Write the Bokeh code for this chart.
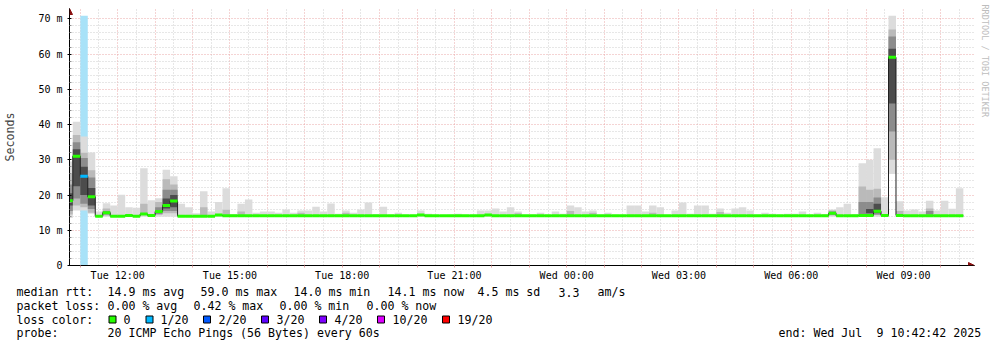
import math
from bokeh.plotting import figure
from bokeh.layouts import column
from bokeh.models import (ColumnDataSource, Range1d, FixedTicker, Label, BoxAnnotation,
                          Arrow, NormalHead, Title)
from bokeh.embed import file_html
from bokeh.resources import INLINE

# ---------------- data ----------------
# time in hours since Tue 00:00; one bin = 12 minutes
view_start = 10 + 42 / 60 + 42 / 3600          # Tue 10:42:42
view_end = view_start + 24                      # Wed 10:42:42
first_bin_start = 10.6
bin_hours = 0.2

median_ms = [
    18.4, 31.0, 25.3, 19.5, 14.0, 15.0, 14.0, 14.0, 14.2, 14.0,
    14.6, 14.2, 15.3, 17.0, 18.3, 14.0, 14.0, 14.0, 14.0, 14.0,
    14.3, 14.1, 14.1, 14.1, 14.1, 14.1, 14.1, 14.1, 14.1, 14.1,
    14.1, 14.1, 14.1, 14.1, 14.1, 14.1, 14.1, 14.1, 14.1, 14.1,
    14.1, 14.1, 14.1, 14.1, 14.1, 14.1, 14.1, 14.3, 14.1, 14.1,
    14.1, 14.1, 14.1, 14.1, 14.1, 14.1, 14.3, 14.1, 14.1, 14.1,
    14.1, 14.1, 14.1, 14.1, 14.1, 14.1, 14.1, 14.1, 14.1, 14.1,
    14.1, 14.1, 14.1, 14.1, 14.1, 14.1, 14.1, 14.1, 14.1, 14.1,
    14.1, 14.1, 14.1, 14.1, 14.1, 14.1, 14.1, 14.1, 14.1, 14.1,
    14.1, 14.1, 14.1, 14.1, 14.1, 14.1, 14.1, 14.1, 14.1, 14.1,
    14.1, 14.1, 14.8, 14.1, 14.1, 14.1, 14.2, 14.2, 15.4, 14.2,
    59.1, 14.2, 14.1, 14.1, 14.1, 14.1, 14.1, 14.1, 14.1, 14.1,
]

smoke_max_ms = [
    29.5, 40.8, 36.6, 32.1, 15.3, 17.7, 17.0, 20.1, 16.5, 16.4,
    27.6, 18.5, 19.1, 27.2, 25.3, 17.5, 16.5, 14.8, 21.1, 15.3,
    18.0, 21.9, 14.6, 17.5, 18.7, 15.0, 15.3, 15.3, 15.0, 15.9,
    15.0, 15.6, 15.6, 16.7, 15.3, 17.6, 14.7, 15.6, 15.0, 15.9,
    17.9, 14.6, 16.7, 14.4, 15.0, 14.4, 14.4, 15.6, 14.7, 14.4,
    14.2, 14.4, 14.7, 14.4, 14.4, 15.6, 15.6, 16.2, 15.3, 16.5,
    15.3, 14.4, 14.4, 15.0, 14.4, 15.3, 14.7, 17.0, 16.5, 15.3,
    15.6, 14.4, 15.0, 14.4, 14.4, 17.0, 17.0, 15.3, 17.0, 16.5,
    14.4, 15.6, 17.9, 14.7, 17.0, 17.0, 14.7, 16.2, 15.0, 16.2,
    16.5, 15.6, 14.4, 15.0, 14.7, 14.4, 14.7, 14.7, 15.3, 14.4,
    15.0, 14.6, 15.9, 16.5, 17.5, 14.6, 29.0, 30.0, 33.3, 19.4,
    70.9, 18.2, 15.6, 15.9, 15.3, 18.4, 15.6, 18.4, 16.1, 21.9,
]

smoke_min_ms = [
    13.5, 15.6, 15.6, 14.7, 13.8, 13.8, 13.8, 13.8, 13.8, 13.8,
    13.8, 13.8, 13.8, 13.8, 13.8, 13.8, 13.8, 13.8, 13.8, 13.8,
    13.8, 13.8, 13.8, 13.8, 13.8, 13.8, 13.8, 13.8, 13.8, 13.8,
    13.8, 13.8, 13.8, 13.8, 13.8, 13.8, 13.8, 13.8, 13.8, 13.8,
    13.8, 13.8, 13.8, 13.8, 13.8, 13.8, 13.8, 13.8, 13.8, 13.8,
    13.8, 13.8, 13.8, 13.8, 13.8, 13.8, 13.8, 13.8, 13.8, 13.8,
    13.8, 13.8, 13.8, 13.8, 13.8, 13.8, 13.8, 13.8, 13.8, 13.8,
    13.8, 13.8, 13.8, 13.8, 13.8, 13.8, 13.8, 13.8, 13.8, 13.8,
    13.8, 13.8, 13.8, 13.8, 13.8, 13.8, 13.8, 13.8, 13.8, 13.8,
    13.8, 13.8, 13.8, 13.8, 13.8, 13.8, 13.8, 13.8, 13.8, 13.8,
    13.8, 13.8, 13.8, 13.8, 13.8, 13.8, 13.8, 13.8, 13.8, 13.8,
    26.0, 13.8, 13.8, 13.8, 13.8, 13.8, 13.8, 13.8, 13.8, 13.8,
]

# lost pings per bin (of 20)
loss_bins = [2]
loss_counts = [1]

# denser smoke bands (index into bins)
band_bins = [0, 1, 2, 3, 5, 10, 12, 13, 14, 18, 21, 23, 31, 37, 60, 67, 70, 78, 87,
             102, 106, 107, 108, 110, 111, 115]
mid_lo = [14.5, 17.0, 16.5, 15.0, 14.2, 14.3, 14.3, 14.8, 14.8, 14.3, 14.2, 14.2, 14.2, 14.2,
          14.2, 14.2, 14.2, 14.2, 14.2, 14.2, 14.3, 14.3, 14.3, 30.0, 14.2, 14.3]
mid_hi = [26.0, 37.0, 32.0, 27.0, 16.2, 17.5, 18.0, 24.5, 23.0, 16.5, 15.8, 15.3, 15.0, 15.0,
          14.8, 15.5, 15.0, 15.0, 15.2, 15.6, 22.4, 21.5, 21.8, 67.0, 15.5, 16.2]
dark_lo = [15.5, 19.0, 17.5, 16.0, 14.5, None, 14.6, 15.5, 15.5, None, None, None, None, None,
           None, None, None, None, None, 14.4, 14.5, 14.5, 14.5, 38.0, None, 14.5]
dark_hi = [23.0, 35.0, 30.5, 25.0, 15.5, None, 16.5, 21.5, 21.5, None, None, None, None, None,
           None, None, None, None, None, 15.3, 18.0, 18.0, 19.3, 65.0, None, 15.5]
core_lo = [17.0, 22.5, 20.0, 17.0, None, None, None, 16.2, 16.5, None, None, None, None, None,
           None, None, None, None, None, None, None, 14.8, 15.0, 46.0, None, None]
core_hi = [20.5, 33.0, 28.0, 22.0, None, None, None, 19.0, 20.0, None, None, None, None, None,
           None, None, None, None, None, None, None, 16.0, 17.5, 61.5, None, None]

loss_levels = ["0", "1/20", "2/20", "3/20", "4/20", "10/20", "19/20"]
loss_colors = ["#26ff00", "#00b8ff", "#0059ff", "#5e00ff", "#7e00ff", "#dd00ff", "#ff0000"]

x_tick_hours = [12, 15, 18, 21, 24, 27, 30, 33]
x_tick_labels = ["Tue 12:00", "Tue 15:00", "Tue 18:00", "Tue 21:00",
                 "Wed 00:00", "Wed 03:00", "Wed 06:00", "Wed 09:00"]
y_ticks = [0, 10, 20, 30, 40, 50, 60, 70]
y_tick_labels = ["0", "10 m", "20 m", "30 m", "40 m", "50 m", "60 m", "70 m"]

rtt_label = "median rtt:"
rtt_values = ["14.9 ms avg", "59.0 ms max", "14.0 ms min", "14.1 ms now", "4.5 ms sd", "3.3", "am/s"]
loss_label = "packet loss:"
loss_values = ["0.00 % avg", "0.42 % max", "0.00 % min", "0.00 % now"]
color_label = "loss color:"
probe_label = "probe:"
probe_text = "20 ICMP Echo Pings (56 Bytes) every 60s"
end_parts = ["end: Wed Jul", "9 10:42:42 2025"]

# ---------------- main figure ----------------
W = 997
H_MAIN, H_LEG = 285, 62
FL, FR, FT, FB = 67, 974, 8, 265      # frame edges in canvas px
PX_PER_HOUR = 37.5
PX_PER_MS = 3.524
MONO = "DejaVu Sans Mono"

x_end = view_start + (FR - FL) / PX_PER_HOUR
y_end = (FB - FT) / PX_PER_MS

p = figure(width=W, height=H_MAIN, output_backend="svg", toolbar_location=None,
           x_range=Range1d(view_start, x_end), y_range=Range1d(0, y_end),
           min_border_left=FL, min_border_right=W - FR, min_border_top=FT,
           min_border_bottom=H_MAIN - FB)
p.background_fill_color = "white"
p.border_fill_color = "white"
p.outline_line_color = None

n = len(median_ms)
left = [first_bin_start + i * bin_hours for i in range(n)]
right = [l + bin_hours for l in left]

# loss background
loss_src = ColumnDataSource(dict(
    left=[left[i] for i in loss_bins], right=[right[i] for i in loss_bins],
    top=[70.9 for _ in loss_bins], bottom=[0 for _ in loss_bins]))
p.quad(left="left", right="right", top="top", bottom="bottom", source=loss_src,
       fill_color="#a8e2f8", line_color=None)

# smoke
smoke_src = ColumnDataSource(dict(left=left, right=right, top=smoke_max_ms, bottom=smoke_min_ms))
p.quad(left="left", right="right", top="top", bottom="bottom", source=smoke_src,
       fill_color="#dcdcdc", line_color=None)


def band(los, his, color):
    idx = [j for j in range(len(band_bins)) if los[j] is not None]
    src = ColumnDataSource(dict(
        left=[left[band_bins[j]] for j in idx], right=[right[band_bins[j]] for j in idx],
        bottom=[los[j] for j in idx], top=[his[j] for j in idx]))
    p.quad(left="left", right="right", top="top", bottom="bottom", source=src,
           fill_color=color, line_color=None)


band(mid_lo, mid_hi, "#bababa")
band(dark_lo, dark_hi, "#8c8c8c")
band(core_lo, core_hi, "#4c4c4c")

# median line: black steps + loss-coloured segments
step_x = left + [right[-1]]
step_y = median_ms + [median_ms[-1]]
p.step(step_x, step_y, mode="after", line_color="#202020", line_width=1)

seg_colors = []
for i in range(n):
    c = loss_colors[0]
    if i in loss_bins:
        c = loss_colors[loss_counts[loss_bins.index(i)]]
    seg_colors.append(c)
seg_src = ColumnDataSource(dict(x0=left, x1=right, y=median_ms, color=seg_colors))
p.segment(x0="x0", y0="y", x1="x1", y1="y", source=seg_src, line_color="color", line_width=3)

# ---------------- axes & grids ----------------
hour_ticks = list(range(11, 35))
half_ticks = [h + 0.5 for h in range(10, 35)]
xax = p.xaxis[0]
xax.ticker = FixedTicker(ticks=hour_ticks, minor_ticks=half_ticks)
xax.major_label_overrides = {h: "" for h in hour_ticks}
for h, lab in zip(x_tick_hours, x_tick_labels):
    xax.major_label_overrides[h] = lab
xax.major_label_text_font = MONO
xax.major_label_text_font_size = "10px"
xax.major_label_text_color = "black"
xax.major_label_standoff = 2
xax.major_tick_out = 2
xax.major_tick_in = 0
xax.minor_tick_out = 0
xax.minor_tick_in = 0
xax.major_tick_line_color = "#e6a0a0"
xax.axis_line_color = "black"

yax = p.yaxis[0]
yax.ticker = FixedTicker(ticks=y_ticks, minor_ticks=[v for v in range(2, 70, 2) if v % 10])
yax.major_label_overrides = {v: s for v, s in zip(y_ticks, y_tick_labels)}
yax.major_label_text_font = MONO
yax.major_label_text_font_size = "10px"
yax.major_label_text_color = "black"
yax.major_label_standoff = 5
yax.major_tick_out = 2
yax.major_tick_in = 2
yax.minor_tick_out = 0
yax.minor_tick_in = 2
yax.axis_line_color = "black"
yax.major_tick_line_color = "black"
yax.minor_tick_line_color = "#909090"
yax.axis_label = "Seconds"
yax.axis_label_text_font = MONO
yax.axis_label_text_font_size = "11.6px"
yax.axis_label_text_font_style = "normal"
yax.axis_label_standoff = 18

for g in (p.xgrid[0], p.ygrid[0]):
    g.grid_line_color = "#eba8a8"
    g.grid_line_dash = "1 2"
    g.grid_line_width = 1
    g.minor_grid_line_color = "#cfcfcf"
    g.minor_grid_line_dash = "1 2"
    g.minor_grid_line_width = 1

# axis arrows (tips at frame edges)
p.add_layout(Arrow(x_start=view_end, y_start=0, x_end=x_end, y_end=0,
                   line_color="black", line_width=1,
                   end=NormalHead(size=6, fill_color="#8b1010", line_color="#8b1010")))
p.add_layout(Arrow(x_start=view_start, y_start=70, x_end=view_start, y_end=y_end,
                   line_color="black", line_width=1,
                   end=NormalHead(size=6, fill_color="#8b1010", line_color="#8b1010")))

p.add_layout(Title(text="RRDTOOL / TOBI OETIKER", text_font=MONO, text_font_size="8.5px",
                   text_font_style="normal", text_color="#bdbdbd", align="left",
                   standoff=10, offset=-4), "right")

# ---------------- legend block ----------------
q = figure(width=W, height=H_LEG, output_backend="svg", toolbar_location=None,
           x_range=Range1d(0, W), y_range=Range1d(H_LEG, 0),
           x_axis_type=None, y_axis_type=None,
           min_border_left=0, min_border_right=0, min_border_top=0, min_border_bottom=0)
q.outline_line_color = None
q.background_fill_color = "white"
q.border_fill_color = "white"
q.grid.visible = False
for fig in (p, q):
    if hasattr(fig, "frame_align"):
        fig.frame_align = False


def lab(text, x_px, y_px):
    q.add_layout(Label(x=x_px, y=y_px - H_MAIN, text=text, text_font=MONO,
                       text_font_size="11.6px", text_color="black",
                       text_align="left", text_baseline="middle"))


ROWS = [291.7, 305.3, 319.3, 332.7]
lab(rtt_label, 16, ROWS[0])
for t, x in zip(rtt_values, [107, 200, 293, 387, 477, 558, 597]):
    lab(t, x, ROWS[0])
lab(loss_label, 16, ROWS[1])
for t, x in zip(loss_values, [107, 193, 279, 366]):
    lab(t, x, ROWS[1])
lab(color_label, 16, ROWS[2])
sq_x = [108.5, 145.5, 203, 261, 319, 377, 442]
txt_x = [123, 160, 218, 276, 334, 392, 457]
for c, t, sx, tx in zip(loss_colors, loss_levels, sq_x, txt_x):
    q.add_layout(BoxAnnotation(left=sx, right=sx + 7, top=315.5 - H_MAIN, bottom=322.5 - H_MAIN,
                               fill_color=c, fill_alpha=1, line_color="black", line_width=1,
                               line_alpha=1))
    lab(t, tx, ROWS[2])
lab(probe_label, 16, ROWS[3])
lab(probe_text, 107, ROWS[3])
lab(end_parts[0], 778, ROWS[3])
lab(end_parts[1], 876, ROWS[3])

layout = column(p, q, spacing=0)
open("out.html", "w").write(file_html(layout, INLINE))
